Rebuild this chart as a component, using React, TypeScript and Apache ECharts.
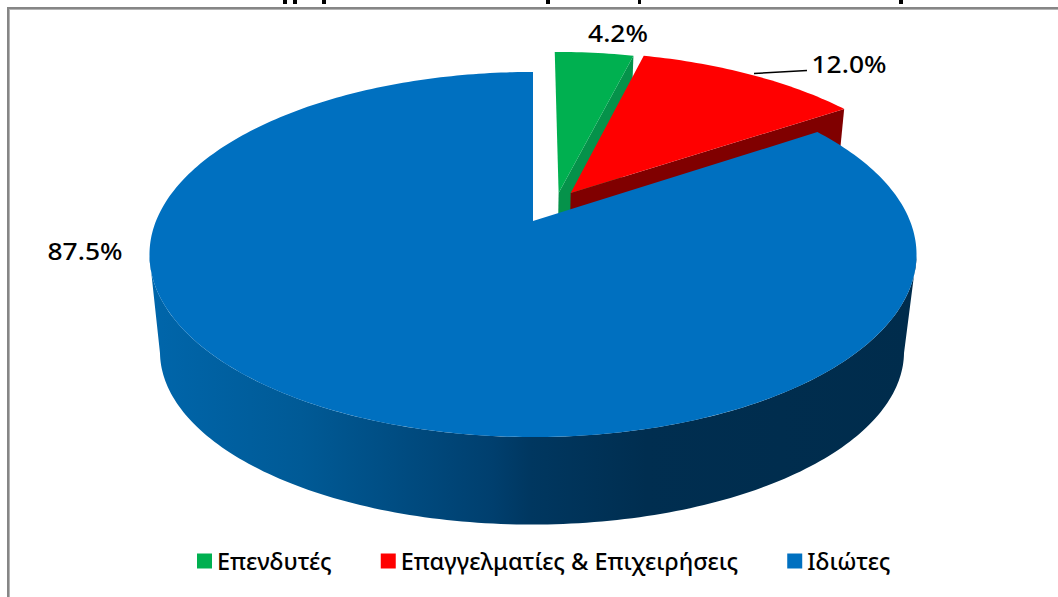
import React, { useEffect, useRef } from "react";
import * as echarts from "echarts";

// Share of each customer group; the printed percentages drive the slice angles.
const categories = ["Επενδυτές", "Επαγγελματίες & Επιχειρήσεις", "Ιδιώτες"];
const shares = [4.2, 12.0, 87.5];
const topColors = ["#00B050", "#FF0000", "#0070C0"];
const cutColors = ["#05924A", "#800000", "#0070C0"];
// Pull-out of each slice on the disc plane, in disc radii (right, away from the viewer).
const pullRight = [0.07, 0.103, 0];
const pullAway = [0.1635, 0.1635, 0];
const labelAnchors = [
  [618, 32],
  [849, 63],
  [85, 250],
];

const FONT = '"Noto Sans", sans-serif';
const PERSPECTIVE = 0.1836;
const topPlane = { x0: 533, y0: 221, a: 176.4, b: 377 };
const basePlane = { x0: 532, y0: 320, a: 167, b: 365.7 };
const total = shares.reduce((s, v) => s + v, 0);

type Plane = typeof topPlane;
const project = (u: number, v: number, p: Plane) => {
  const d = 1 + PERSPECTIVE * v;
  return [p.x0 + (p.b * u) / d, p.y0 - (p.a * v) / d];
};
const onRim = (deg: number, i: number, p: Plane) => {
  const t = (deg * Math.PI) / 180;
  return project(pullRight[i] + Math.sin(t), pullAway[i] + Math.cos(t), p);
};
const sliceAngles = (i: number) => {
  const before = shares.slice(0, i).reduce((s, v) => s + v, 0);
  return [(before / total) * 360, ((before + shares[i]) / total) * 360];
};

// Rim angle at which a plane's outline reaches its right or left extreme.
const extremeAngle = (p: Plane, i: number, from: number, to: number, sign: number) => {
  let best = from;
  for (let d = from; d <= to; d += 1) {
    if (sign * onRim(d, i, p)[0] > sign * onRim(best, i, p)[0]) best = d;
  }
  return best;
};

const sideGradient = {
  type: "linear",
  global: true,
  x: 148,
  y: 0,
  x2: 915,
  y2: 0,
  colorStops: [
    { offset: 0, color: "#0066AB" },
    { offset: 0.2, color: "#005A96" },
    { offset: 0.45, color: "#003F6E" },
    { offset: 0.5, color: "#003760" },
    { offset: 0.65, color: "#002E50" },
    { offset: 1, color: "#002C4C" },
  ],
};

const textEl = (text: string, x: number, y: number) => ({
  type: "text",
  x,
  y,
  scaleX: 1.1,
  z2: 20,
  style: {
    text,
    fontFamily: FONT,
    fontSize: 24,
    fontWeight: 500,
    fill: "#000",
    align: "center",
    verticalAlign: "middle",
  },
});

const wallPoints = (i: number) => {
  const top: number[][] = [];
  const base: number[][] = [];
  const topRight = extremeAngle(topPlane, i, 60, 140, 1);
  const topLeft = extremeAngle(topPlane, i, 220, 300, -1);
  const baseRight = extremeAngle(basePlane, i, 60, 140, 1);
  const baseLeft = extremeAngle(basePlane, i, 220, 300, -1);
  for (let d = topRight; d <= topLeft; d += 1) top.push(onRim(d, i, topPlane));
  for (let d = baseLeft; d >= baseRight; d -= 1) base.push(onRim(d, i, basePlane));
  return [...top, ...base];
};

const renderSlice = (i: number) => (_params: any, api: any) => {
  const value = api.value(0) as number;
  const [start, end] = sliceAngles(i);
  const children: any[] = [];
  const rim: number[][] = [];
  for (let d = start; d < end; d += 1) rim.push(onRim(d, i, topPlane));
  rim.push(onRim(end, i, topPlane));
  const apex = project(pullRight[i], pullAway[i], topPlane);
  const apexBase = project(pullRight[i], pullAway[i], basePlane);

  if (i === 2) {
    // The large slice stays in place, so its outer wall is the only visible side.
    children.push({
      type: "polygon",
      shape: { points: wallPoints(i) },
      style: { fill: sideGradient },
    });
  } else {
    // Pulled-out slices show the cut face on their clockwise side.
    const cornerTop = rim[rim.length - 1];
    const cornerBase = onRim(end, i, basePlane);
    children.push({
      type: "polygon",
      shape: { points: [apex, cornerTop, cornerBase, apexBase] },
      style: { fill: cutColors[i] },
    });
  }
  children.push({
    type: "polygon",
    shape: { points: [apex, ...rim] },
    style: { fill: topColors[i] },
  });
  const [lx, ly] = labelAnchors[i];
  children.push(textEl(`${value.toFixed(1)}%`, lx, ly));
  if (i === 1) {
    children.push({
      type: "line",
      shape: { x1: 754, y1: 73.5, x2: 807, y2: 70.5 },
      style: { stroke: "#000", lineWidth: 1.6 },
      z2: 20,
    });
  }
  return { type: "group", children };
};

// Lower ends of the heading that runs past the top of the page.
const headingStubs = [
  [283, 4],
  [293, 4],
  [322, 4],
  [546, 4],
  [638, 3],
  [899, 4],
];

export default function App() {
  const ref = useRef<HTMLDivElement>(null);
  useEffect(() => {
    document.body.style.margin = "0";
    const chart = echarts.init(ref.current!, undefined, { renderer: "svg" });
    chart.setOption({
      animation: false,
      backgroundColor: "#fff",
      legend: {
        left: 192,
        top: 544,
        itemWidth: 15,
        itemHeight: 15,
        itemGap: 49,
        icon: "rect",
        data: categories,
        textStyle: { fontFamily: FONT, fontSize: 23.5, fontWeight: 500, color: "#000" },
      },
      graphic: [
        ...[
          { x: 7, y: 7, width: 1051, height: 2, fill: "#868686" },
          { x: 7, y: 9, width: 1051, height: 1, fill: "#B4B4B4" },
          { x: 7, y: 7, width: 2, height: 590, fill: "#868686" },
          { x: 9, y: 9, width: 1, height: 588, fill: "#B4B4B4" },
        ].map((r) => ({
          type: "rect",
          shape: { x: r.x, y: r.y, width: r.width, height: r.height },
          style: { fill: r.fill },
        })),
        ...headingStubs.map(([x, w]) => ({
          type: "rect",
          shape: { x, y: 0, width: w, height: 4 },
          style: { fill: "#000" },
        })),
      ],
      series: categories.map((name, i) => ({
        type: "custom",
        name,
        coordinateSystem: "none",
        itemStyle: { color: topColors[i] },
        data: [[shares[i]]],
        renderItem: renderSlice(i),
        silent: true,
        clip: false,
      })),
    });
    return () => chart.dispose();
  }, []);
  return <div ref={ref} style={{ width: 1058, height: 597 }} />;
}
